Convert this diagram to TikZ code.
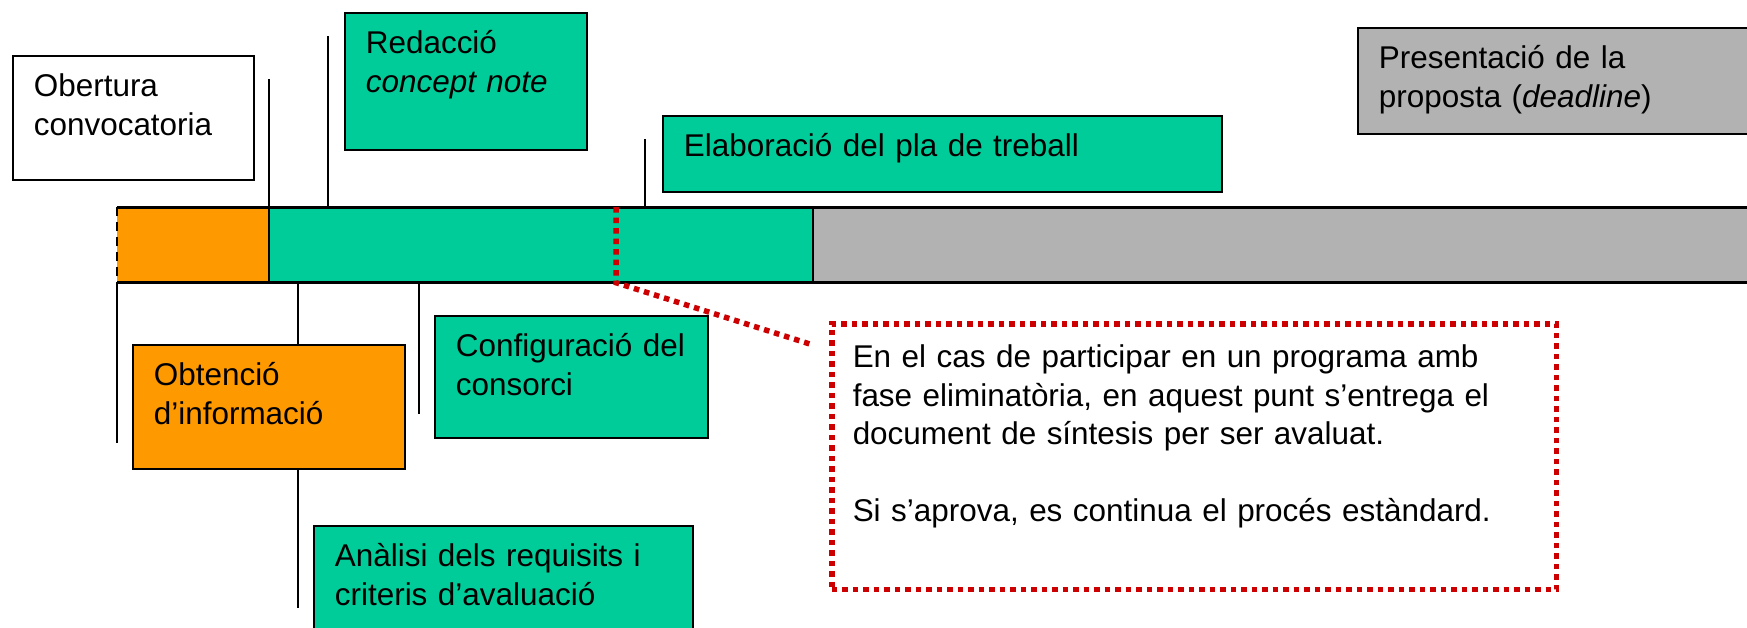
\documentclass[tikz,border=0pt]{standalone}
\usepackage{fontspec}
\setmainfont{Liberation Sans}
\usepackage{tikz}

\definecolor{orangeinfo}{RGB}{255,153,0}
\definecolor{greenphase}{RGB}{0,204,153}
\definecolor{greydeadline}{RGB}{178,178,178}
\definecolor{rednote}{RGB}{204,0,0}

\begin{document}
\begin{tikzpicture}[x=0.02cm,y=-0.02cm,
    every node/.style={anchor=north west,inner sep=0pt},
    phasebox/.style={draw=black,line width=0.035cm,align=left,inner xsep=0.42cm,inner ysep=0pt,
      text height=0.82cm,font=\fontsize{17.9}{21.9}\selectfont},
    barpart/.style={minimum height=1.5cm},
    tickline/.style={line width=0.03cm},
    notedots/.style={draw=rednote,line width=0.11cm,dash pattern=on 0.11cm off 0.1cm}]
  \clip (0,0) rectangle (1747,627);

  % time bar
  \node[barpart,fill=orangeinfo,minimum width=3.04cm] (info) at (117,207) {};
  \node[barpart,fill=greenphase,minimum width=10.88cm] (phase) at (269,207) {};
  \node[barpart,fill=greydeadline,minimum width=19cm] (deadline) at (813,207) {};
  \draw[line width=0.06cm] (info.north west) -- (deadline.north east);
  \draw[line width=0.06cm] (info.south west) -- (deadline.south east);
  \draw[line width=0.05cm,dash pattern=on 0.18cm off 0.12cm] (info.north west) -- (info.south west);
  \draw[tickline] (deadline.north west) -- (deadline.south west);

  % boxes above the bar
  \node[phasebox,fill=white,text width=3.98cm,text depth=1.66cm] (obertura) at (12,55)
    {Obertura\\convocatoria};
  \node[phasebox,fill=greenphase,text width=4cm,text depth=1.92cm] (redaccio) at (344,12)
    {Redacció\\\textit{concept note}};
  \node[phasebox,fill=greenphase,text width=10.34cm,text depth=0.7cm] (elaboracio) at (662,115)
    {Elaboració del pla de treball};
  \node[phasebox,fill=greydeadline,text width=7.56cm,text depth=1.3cm] (presentacio) at (1357,27)
    {Presentació de la\\proposta (\textit{deadline})};

  % boxes below the bar
  \node[phasebox,fill=orangeinfo,text width=4.6cm,text depth=1.66cm] (obtencio) at (132,344)
    {Obtenció\\d’informació};
  \node[phasebox,fill=greenphase,text width=4.62cm,text depth=1.62cm] (configuracio) at (434,315)
    {Configuració del\\consorci};
  \node[phasebox,fill=greenphase,text width=6.74cm,text depth=1.58cm] (analisi) at (313,525)
    {Anàlisi dels requisits i\\criteris d’avaluació};
  \node[phasebox,notedots,text width=13.66cm,text height=0.88cm,text depth=4.44cm] (note) at (829,321)
    {En el cas de participar en un programa amb\\
     fase eliminatòria, en aquest punt s’entrega el\\
     document de síntesis per ser avaluat.\\[21.9pt]
     Si s’aprova, es continua el procés estàndard.};

  % marks on the time bar
  \coordinate (mark-obertura) at (269,79);
  \coordinate (mark-redaccio) at (328,36);
  \coordinate (mark-pla) at (645,139);
  \coordinate (mark-inici) at (117,443);
  \coordinate (mark-analisi) at (298,608);
  \coordinate (mark-consorci) at (419,414);
  \coordinate (mark-eliminatoria) at (616,207);

  \draw[tickline] (mark-obertura) -- (phase.south west);
  \draw[tickline] (mark-redaccio) -- (mark-redaccio |- phase.north);
  \draw[tickline] (mark-pla) -- (mark-pla |- phase.north);
  \draw[tickline] (info.south west) -- (mark-inici);
  \draw[tickline] (mark-analisi |- phase.south) -- (mark-analisi |- obtencio.north);
  \draw[tickline] (mark-analisi |- obtencio.south) -- (mark-analisi);
  \draw[tickline] (mark-consorci |- phase.south) -- (mark-consorci);

  \draw[notedots] (mark-eliminatoria) -- (mark-eliminatoria |- phase.south)
    -- ([xshift=-0.32cm,yshift=-0.48cm]note.north west);
\end{tikzpicture}
\end{document}
